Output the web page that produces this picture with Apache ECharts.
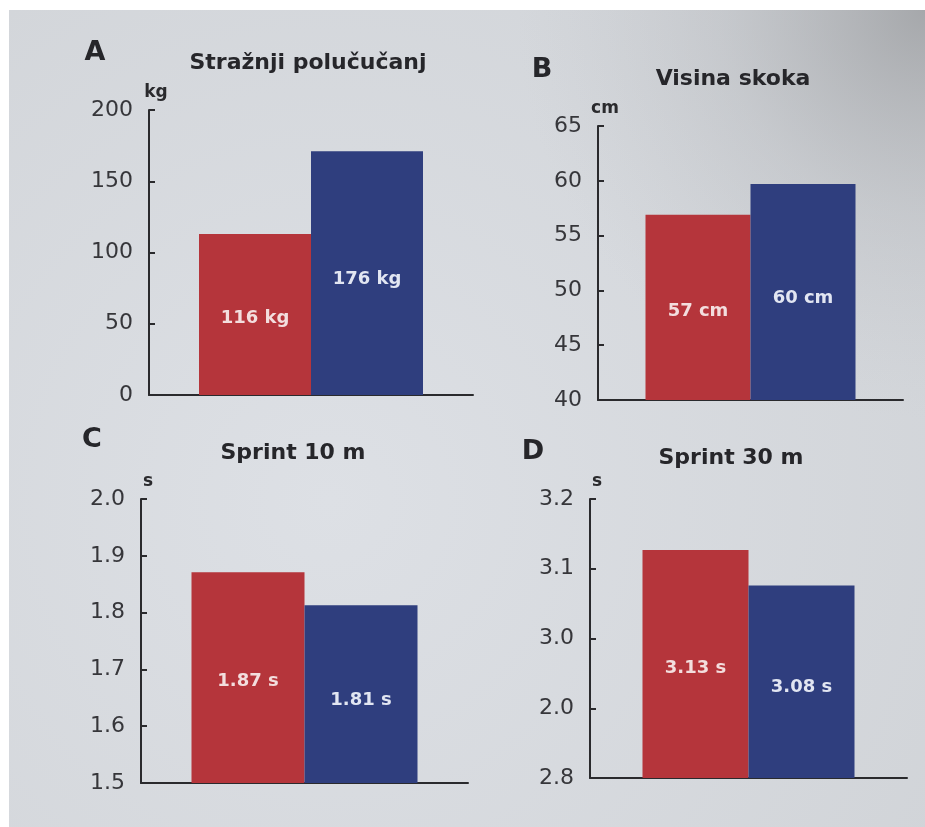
<!DOCTYPE html>
<html><head><meta charset="utf-8">
<script src="https://cdn.jsdelivr.net/npm/echarts@6/dist/echarts.min.js"></script>
<style>html,body{margin:0;padding:0;background:#fff}#c{width:925px;height:827px}</style>
</head><body><div id="c"></div>
<script>
const panelLetters = ['A', 'B', 'C', 'D'];
const panelTitles = ['Stražnji polučučanj', 'Visina skoka', 'Sprint 10 m', 'Sprint 30 m'];
const units = ['kg', 'cm', 's', 's'];
const groupNames = ['Skupina 1', 'Skupina 2'];
const categories = ['grupa'];
const redValues = [113, 56.9, 1.871, 3.127];
const blueValues = [171, 59.7, 1.813, 3.076];
const redLabels = ['116 kg', '57 cm', '1.87 s', '3.13 s'];
const blueLabels = ['176 kg', '60 cm', '1.81 s', '3.08 s'];
const tickLabelsA = ['0', '50', '100', '150', '200'];
const tickLabelsB = ['40', '45', '50', '55', '60', '65'];
const tickLabelsC = ['1.5', '1.6', '1.7', '1.8', '1.9', '2.0'];
const tickLabelsD = ['2.8', '2.0', '3.0', '3.1', '3.2'];
const tickLabels = [tickLabelsA, tickLabelsB, tickLabelsC, tickLabelsD];
const axisMin = [0, 40, 1.5, 2.8];
const axisMax = [200, 65, 2.0, 3.2];
const axisStep = [50, 5, 0.1, 0.1];

// layout (pixels)
const grids = [
  { left: 149, top: 110, width: 324, height: 285 },
  { left: 598, top: 126, width: 305, height: 274 },
  { left: 141, top: 499, width: 327, height: 284 },
  { left: 590, top: 499, width: 317, height: 279 }
];
const barWidths = [112, 105, 113, 106];
const letterPos = [[95, 53], [542, 70], [92, 440], [533, 452]];
const titlePos = [[308, 63], [733, 79], [293, 453], [731, 458]];

const RED = '#b5353b';
const BLUE = '#2f3e7e';
const AXIS = '#2a2a2d';
const FONT = '"DejaVu Sans", "Liberation Sans", Arial, sans-serif';

const chart = echarts.init(document.getElementById('c'));

const xAxes = [], yAxes = [], series = [];
grids.forEach((g, i) => {
  xAxes.push({
    type: 'category', gridIndex: i, data: categories,
    axisLine: { lineStyle: { color: AXIS, width: 2 } },
    axisTick: { show: false }, axisLabel: { show: false }
  });
  yAxes.push({
    type: 'value', gridIndex: i, min: axisMin[i], max: axisMax[i], interval: axisStep[i],
    name: units[i], nameLocation: 'end', nameGap: 9,
    nameTextStyle: { fontFamily: FONT, fontWeight: 'bold', fontSize: 17, color: '#2a2a2d', padding: [0, 0, 0, 14] },
    axisLine: { show: true, lineStyle: { color: AXIS, width: 2 } },
    axisTick: { show: true, inside: true, length: 6, lineStyle: { color: AXIS, width: 2 } },
    splitLine: { show: false },
    axisLabel: {
      margin: 16, fontFamily: FONT, fontSize: 22, color: '#36363a',
      formatter: v => tickLabels[i][Math.round((v - axisMin[i]) / axisStep[i])]
    }
  });
  series.push({
    name: groupNames[0], type: 'bar', xAxisIndex: i, yAxisIndex: i,
    data: [redValues[i]], barWidth: barWidths[i], barGap: '0%',
    itemStyle: { color: RED },
    label: { show: true, position: 'inside', offset: [0, 4], formatter: () => redLabels[i],
      fontFamily: FONT, fontWeight: 'bold', fontSize: 18, color: '#f3dede' }
  });
  series.push({
    name: groupNames[1], type: 'bar', xAxisIndex: i, yAxisIndex: i,
    data: [blueValues[i]], barWidth: barWidths[i], barGap: '0%',
    itemStyle: { color: BLUE },
    label: { show: true, position: 'inside', offset: [0, 6], formatter: () => blueLabels[i],
      fontFamily: FONT, fontWeight: 'bold', fontSize: 18, color: '#e2e6f2' }
  });
});

const graphics = [{
  type: 'rect', z: -10, silent: true,
  shape: { x: 9, y: 10, width: 916, height: 817 },
  style: {
    fill: new echarts.graphic.RadialGradient(0.35, 0.6, 1.0, [
      { offset: 0, color: '#dde0e5' },
      { offset: 1, color: '#cfd2d6' }
    ])
  }
}, {
  type: 'rect', z: -9, silent: true,
  shape: { x: 9, y: 10, width: 916, height: 817 },
  style: {
    fill: new echarts.graphic.RadialGradient(1, 0, 0.5, [
      { offset: 0, color: 'rgba(155,157,160,0.8)' },
      { offset: 0.5, color: 'rgba(170,172,176,0.3)' },
      { offset: 1, color: 'rgba(190,192,196,0)' }
    ])
  }
}];
panelLetters.forEach((t, i) => {
  graphics.push({ type: 'text', x: letterPos[i][0], y: letterPos[i][1],
    style: { text: t, textAlign: 'center', textVerticalAlign: 'middle',
      font: 'bold 27px ' + FONT, fill: '#26262a' } });
  graphics.push({ type: 'text', x: titlePos[i][0], y: titlePos[i][1],
    style: { text: panelTitles[i], textAlign: 'center', textVerticalAlign: 'middle',
      font: 'bold 22px ' + FONT, fill: '#26262a' } });
});

chart.setOption({
  backgroundColor: '#ffffff',
  animation: false,
  grid: grids,
  xAxis: xAxes,
  yAxis: yAxes,
  series: series,
  graphic: graphics
});
</script></body></html>
